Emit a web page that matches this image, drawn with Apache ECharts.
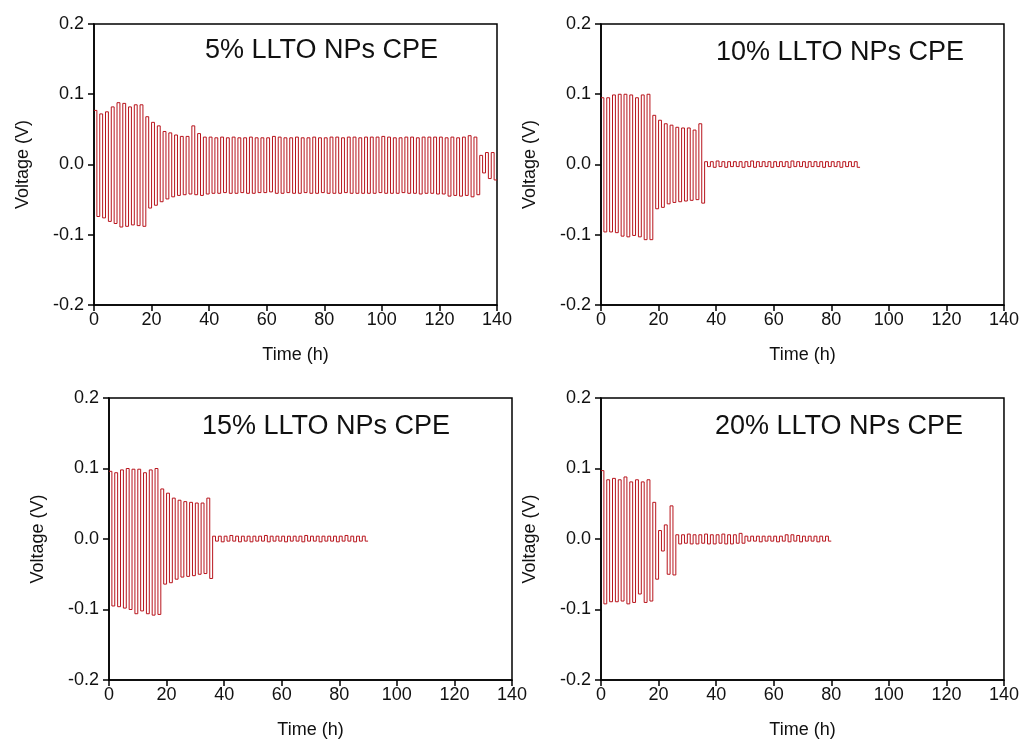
<!DOCTYPE html>
<html>
<head>
    <meta charset="UTF-8">
    <title>LLTO NPs CPE voltage</title>
    <script type="text/javascript" src="https://cdn.jsdelivr.net/npm/echarts@6/dist/echarts.min.js"></script>
    <style>
        *{margin:0;padding:0}
        html,body{width:100%;height:100%;background:#fff}
        #main{width:1022px;height:742px}
    </style>
</head>
<body>
<div id="main"></div>
<script type="text/javascript">
    // plateau voltage of each 2 h cycle (1 h up, 1 h down), in mV
    var up5 = [77,72,75,82,88,87,82,85,85,
        68,60,55,47,45,42,40,40,55,44,
        39,39,38,39,38,39,38,38,39,38, 38,38,40,39,38,38,39,38,38,39,
        38,38,39,39,38,39,39,38,39,39, 39,40,39,38,38,39,39,38,39,39, 39,
        39,38,39,38,39,41,39,
        13,17,17];
    var down5 = [-74,-76,-81,-84,-89,-88,-86,-87,-88,
        -62,-58,-53,-49,-46,-44,-43,-42,-43,-44,
        -42,-41,-41,-40,-41,-41,-40,-41,-41,-40, -40,-39,-41,-41,-40,-41,-41,-40,-41,-41,
        -40,-41,-41,-41,-40,-41,-41,-41,-41,-41, -40,-41,-41,-41,-40,-41,-41,-42,-41,-41, -42,
        -42,-45,-44,-45,-44,-46,-43,
        -12,-20,-22];

    var up10 = [95,95,99,100,100,99,95,99,100,
        70,63,58,56,53,52,52,49,58,
        4,4,5,4,4,4,4,4,5,4, 4,4,4,4,4,5,4,4,4,4, 4,4,4,4,4,4,4];
    var down10 = [-96,-96,-97,-102,-103,-101,-103,-107,-107,
        -63,-61,-56,-54,-53,-52,-51,-50,-55,
        -3,-4,-3,-4,-3,-3,-4,-3,-4,-3, -3,-4,-3,-3,-4,-3,-3,-4,-3,-3, -4,-3,-3,-4,-3,-3,-4];

    var up15 = [96,94,98,100,99,99,94,98,100,
        71,65,58,55,53,52,51,51,58,
        4,4,4,5,4,4,4,4,4,5, 4,4,4,4,4,4,5,4,4,4, 4,4,4,5,4,4,4];
    var down15 = [-95,-96,-98,-100,-106,-102,-106,-108,-107,
        -64,-62,-57,-54,-53,-52,-50,-49,-56,
        -3,-4,-3,-3,-4,-3,-4,-3,-3,-4, -3,-3,-4,-3,-3,-4,-3,-3,-4,-3, -3,-4,-3,-3,-4,-3,-3];

    var up20 = [97,84,86,84,88,81,84,81,84,
        52,12,20,47,
        6,6,7,6,6,7,6,6,7,6,6,8,
        4,4,4,4,4,4,4,6,6,5,4,4,4,4,4];
    var down20 = [-92,-89,-89,-88,-92,-90,-78,-90,-88,
        -57,-17,-50,-51,
        -7,-6,-7,-7,-6,-7,-7,-6,-7,-7,-6,-6,
        -3,-3,-4,-3,-3,-4,-3,-4,-3,-4,-3,-3,-4,-3,-3];

    var titles = ['5% LLTO NPs CPE', '10% LLTO NPs CPE', '15% LLTO NPs CPE', '20% LLTO NPs CPE'];
    var xTicks = [0, 20, 40, 60, 80, 100, 120, 140];
    var yTicks = [-0.2, -0.1, 0.0, 0.1, 0.2];
    var halfCycle = 1; // hours

    // turn cycle plateaus into step points [time, voltage]
    function steps(up, down) {
        var pts = [];
        for (var i = 0; i < up.length; i++) {
            pts.push([2 * i * halfCycle, up[i] / 1000]);
            pts.push([(2 * i + 1) * halfCycle, down[i] / 1000]);
        }
        pts.push([2 * up.length * halfCycle, down[down.length - 1] / 1000]);
        return pts;
    }

    var font = 'Liberation Sans, Arial, sans-serif';
    var grids = [
        {left: 94, top: 24, width: 403, height: 281},
        {left: 601, top: 24, width: 403, height: 281},
        {left: 109, top: 398, width: 403, height: 282},
        {left: 601, top: 398, width: 403, height: 282}
    ];
    var titlePos = [[205, 37], [716, 39], [202, 413], [715, 413]];
    var data = [steps(up5, down5), steps(up10, down10), steps(up15, down15), steps(up20, down20)];

    var option = {
        animation: false,
        backgroundColor: '#fff',
        title: [], grid: [], xAxis: [], yAxis: [], series: []
    };

    for (var k = 0; k < 4; k++) {
        option.title.push({
            text: titles[k], left: titlePos[k][0], top: titlePos[k][1], padding: 0,
            textStyle: {fontFamily: font, fontSize: 27, fontWeight: 'normal', color: '#111'}
        });
        option.grid.push({
            left: grids[k].left, top: grids[k].top, width: grids[k].width, height: grids[k].height,
            show: true, borderColor: '#000', borderWidth: 1.5, containLabel: false
        });
        option.xAxis.push({
            type: 'value', gridIndex: k,
            min: xTicks[0], max: xTicks[xTicks.length - 1], interval: xTicks[1] - xTicks[0],
            name: 'Time (h)', nameLocation: 'middle', nameGap: 41,
            nameTextStyle: {fontFamily: font, fontSize: 18, color: '#111'},
            axisLine: {show: true, onZero: false, lineStyle: {color: '#000', width: 1.5}},
            axisTick: {show: true, inside: false, length: 6, lineStyle: {color: '#000', width: 1.5}},
            axisLabel: {fontFamily: font, fontSize: 18, color: '#111', margin: 6},
            splitLine: {show: false}
        });
        option.yAxis.push({
            type: 'value', gridIndex: k,
            min: yTicks[0], max: yTicks[yTicks.length - 1], interval: 0.1,
            name: 'Voltage (V)', nameLocation: 'middle', nameGap: 62,
            nameTextStyle: {fontFamily: font, fontSize: 18, color: '#111'},
            axisLine: {show: true, onZero: false, lineStyle: {color: '#000', width: 1.5}},
            axisTick: {show: true, inside: false, length: 6, lineStyle: {color: '#000', width: 1.5}},
            axisLabel: {fontFamily: font, fontSize: 18, color: '#111', margin: 10,
                formatter: function (v) { return v.toFixed(1); }},
            splitLine: {show: false}
        });
        option.series.push({
            type: 'line', xAxisIndex: k, yAxisIndex: k,
            data: data[k], step: 'end', showSymbol: false, symbol: 'none',
            lineStyle: {color: '#b8141c', width: 1},
            silent: true
        });
    }

    var myChart = echarts.init(document.getElementById('main'));
    myChart.setOption(option);
</script>
</body>
</html>
